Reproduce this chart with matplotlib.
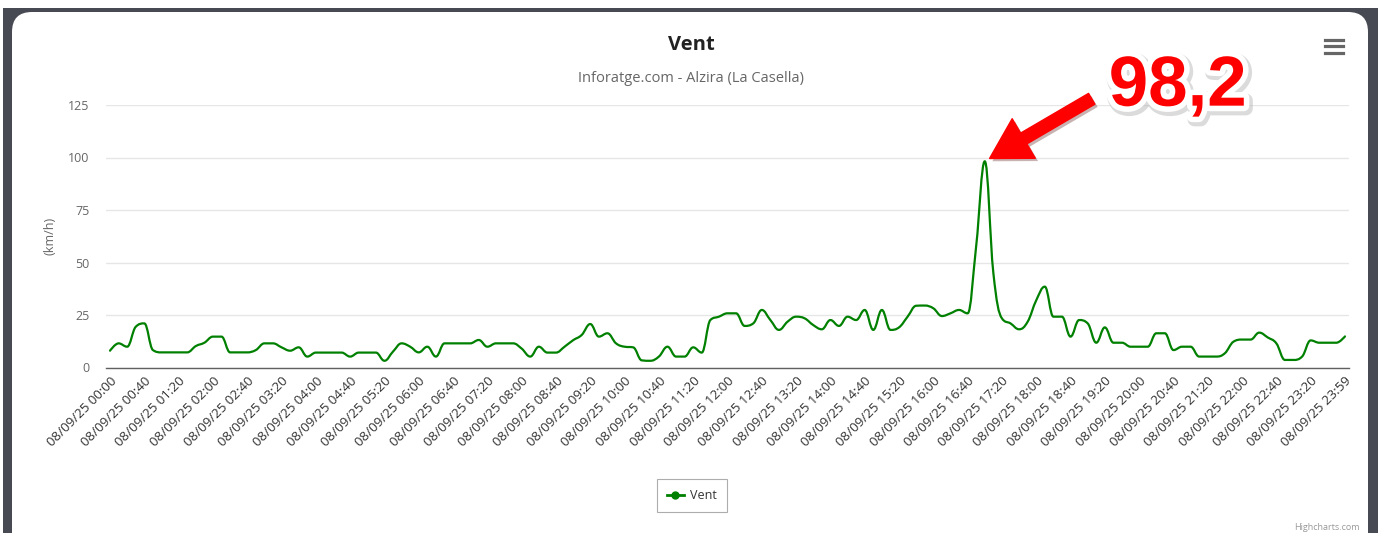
import matplotlib
matplotlib.use("Agg")
import matplotlib.pyplot as plt
from matplotlib.path import Path
from matplotlib.patches import PathPatch, Rectangle, FancyBboxPatch
from matplotlib.lines import Line2D
import matplotlib.patheffects as pe

# wind speed (km/h), every 10 min from 00:00 to 23:50, plus 23:59
vent = [8.0, 11.5, 9.9, 19.4, 21.0, 8.3, 7.2, 7.2, 7.2, 7.2,
        10.2, 11.8, 14.7, 14.7, 7.2, 7.2, 7.2, 8.3, 11.5, 11.5,
        9.6, 8.0, 9.6, 5.2, 7.1, 7.1, 7.1, 7.1, 5.2, 7.1,
        7.1, 7.1, 3.2, 7.6, 11.5, 9.9, 7.2, 9.9, 5.2, 11.5,
        11.5, 11.5, 11.5, 13.1, 9.9, 11.5, 11.5, 11.5, 9.0, 5.2,
        9.9, 7.1, 7.1, 9.9, 13.0, 15.5, 20.7, 14.7, 16.3, 11.5,
        9.9, 9.6, 3.4, 3.2, 5.2, 9.9, 5.2, 5.2, 9.6, 7.1,
        22.6, 24.2, 25.8, 25.8, 19.8, 21.0, 27.4, 22.6, 17.9, 21.8,
        24.2, 23.4, 20.2, 18.2, 22.6, 19.8, 24.2, 22.6, 27.4, 17.9,
        27.4, 17.9, 19.1, 24.2, 29.4, 29.5, 28.2, 24.5, 25.8, 27.4,
        25.8, 58.0, 98.2, 45.0, 23.4, 21.0, 18.2, 21.8, 32.0, 38.5,
        24.2, 24.2, 14.7, 22.6, 21.0, 11.8, 19.1, 11.8, 11.8, 9.9,
        9.9, 9.9, 16.3, 16.3, 8.3, 9.9, 9.9, 5.2, 5.2, 5.2,
        6.8, 12.3, 13.3, 13.3, 16.6, 14.3, 11.5, 3.6, 3.6, 5.2,
        12.9, 11.8, 11.8, 11.8, 14.8]

hores = [f"08/09/25 {h:02d}:{m:02d}" for h in range(24) for m in range(0, 60, 10)]
hores.append("08/09/25 23:59")
y_ticks = [0, 25, 50, 75, 100, 125]
pic = 98.2


def spline(xs, ys):
    # same smoothing as highcharts "spline"
    sm = 1.5
    den = sm + 1
    n = len(xs)
    verts = [(xs[0], ys[0])]
    codes = [Path.MOVETO]
    prev_r = (xs[0], ys[0])
    for i in range(1, n):
        x, y = xs[i], ys[i]
        if i < n - 1:
            lx, ly = xs[i-1], ys[i-1]
            nx, ny = xs[i+1], ys[i+1]
            lcx = (sm*x + lx)/den
            lcy = (sm*y + ly)/den
            rcx = (sm*x + nx)/den
            rcy = (sm*y + ny)/den
            corr = (rcy - lcy)*(rcx - x)/(rcx - lcx) + y - rcy
            lcy += corr
            rcy += corr
            if lcy > ly and lcy > y:
                lcy = max(ly, y); rcy = 2*y - lcy
            elif lcy < ly and lcy < y:
                lcy = min(ly, y); rcy = 2*y - lcy
            if rcy > ny and rcy > y:
                rcy = max(ny, y); lcy = 2*y - rcy
            elif rcy < ny and rcy < y:
                rcy = min(ny, y); lcy = 2*y - rcy
        else:
            lcx, lcy, rcx, rcy = x, y, x, y
        verts += [prev_r, (lcx, lcy), (x, y)]
        codes += [Path.CURVE4]*3
        prev_r = (rcx, rcy)
    return Path(verts, codes)


plt.rcParams['font.family'] = ['Open Sans', 'DejaVu Sans']

W, H = 1383, 533
fig = plt.figure(figsize=(W/100, H/100), dpi=100, facecolor='white')

# dark frame + white rounded card
fig.patches.append(Rectangle((3/100, -0.1), 1375/100, (H-8)/100 + 0.1,
                             transform=fig.dpi_scale_trans, facecolor='#474a52',
                             edgecolor='none', zorder=-10))
fig.patches.append(FancyBboxPatch((12/100, -0.3), 1356/100, (H-12)/100 + 0.3,
                                  boxstyle='round,pad=0,rounding_size=0.2',
                                  transform=fig.dpi_scale_trans, facecolor='white',
                                  edgecolor='none', zorder=-9))

ax = fig.add_axes([106/W, 1 - 367.5/H, 1243/W, 262.5/H])
ax.set_facecolor('none')
x = list(range(len(vent)))
ax.add_patch(PathPatch(spline(x, vent), facecolor='none', edgecolor='#008000',
                       lw=1.6, capstyle='round', joinstyle='round', zorder=3))
ax.set_xlim(-0.47, len(vent) - 0.53)
ax.set_ylim(0, 125)

ax.set_yticks(y_ticks)
ax.set_yticklabels([str(v) for v in y_ticks])
ax.yaxis.grid(True, color='#e6e6e6', lw=1)
ax.set_axisbelow(True)
ax.set_xticks(x[::4])
ax.set_xticklabels(hores[::4], rotation=45, ha='right', rotation_mode='anchor')
ax.tick_params(axis='x', length=0, pad=5, labelsize=9.6, colors='#333333')
ax.tick_params(axis='y', length=0, pad=12, labelsize=9, colors='#666666')
for s in ['top', 'right', 'left']:
    ax.spines[s].set_visible(False)
ax.spines['bottom'].set_color('#606060')
ax.spines['bottom'].set_linewidth(1)

fig.text(691/W, 1 - 45/H, "Vent", ha='center', va='center', fontsize=14.5,
         fontweight='bold', color='#222222')
fig.text(691/W, 1 - 79/H, "Inforatge.com - Alzira (La Casella)", ha='center',
         va='center', fontsize=10.5, color='#666666')
fig.text(50/W, 1 - 236/H, "(km/h)", rotation=90, ha='center', va='center',
         fontsize=9, color='#666666')
fig.text(1360/W, 1 - 527/H, "Highcharts.com", ha='right', va='center',
         fontsize=6.5, color='#999999')

# menu button
for yy in [40, 46, 52.5]:
    fig.add_artist(Line2D([1325/W, 1343/W], [1 - yy/H, 1 - yy/H], color='#666666',
                          lw=2.3, transform=fig.transFigure))

h = Line2D([], [], color='#008000', lw=2, marker='o', markersize=5)
leg = ax.legend([h], ["Vent"], loc='center', bbox_to_anchor=(692/W, 1 - 495.5/H),
                bbox_transform=fig.transFigure, fontsize=9, frameon=True,
                fancybox=False, edgecolor='#999999', handlelength=1.4,
                handletextpad=0.5, borderpad=0.8, labelcolor='#333333')
leg.get_frame().set_linewidth(0.8)

# red arrow + big label pointing to the peak
ipic = vent.index(pic)
arr = ax.annotate("", xy=(ipic, pic), xytext=(77, 45), textcoords='offset points',
                  arrowprops=dict(arrowstyle='simple,head_length=0.95,head_width=1.1,tail_width=0.3',
                                  color='#ff0000', shrinkA=0, shrinkB=4, mutation_scale=30),
                  annotation_clip=False, zorder=6)
arr.arrow_patch.set_path_effects([pe.SimplePatchShadow(offset=(2, -2), alpha=0.3), pe.Normal()])

lab = ax.annotate(f"{pic}".replace('.', ','), xy=(ipic, pic), xytext=(139, 53),
                  textcoords='offset points', ha='center', va='center',
                  fontsize=51, fontweight='bold', color='#ff0000',
                  family=['Liberation Sans', 'DejaVu Sans'], annotation_clip=False, zorder=7)
lab.set_path_effects([pe.Stroke(linewidth=10, foreground='#b0b0b0', offset=(1.5, -2), alpha=0.45),
                      pe.Stroke(linewidth=8, foreground='white'), pe.Normal()])

fig.savefig("out.png", dpi=100, facecolor=fig.get_facecolor())
